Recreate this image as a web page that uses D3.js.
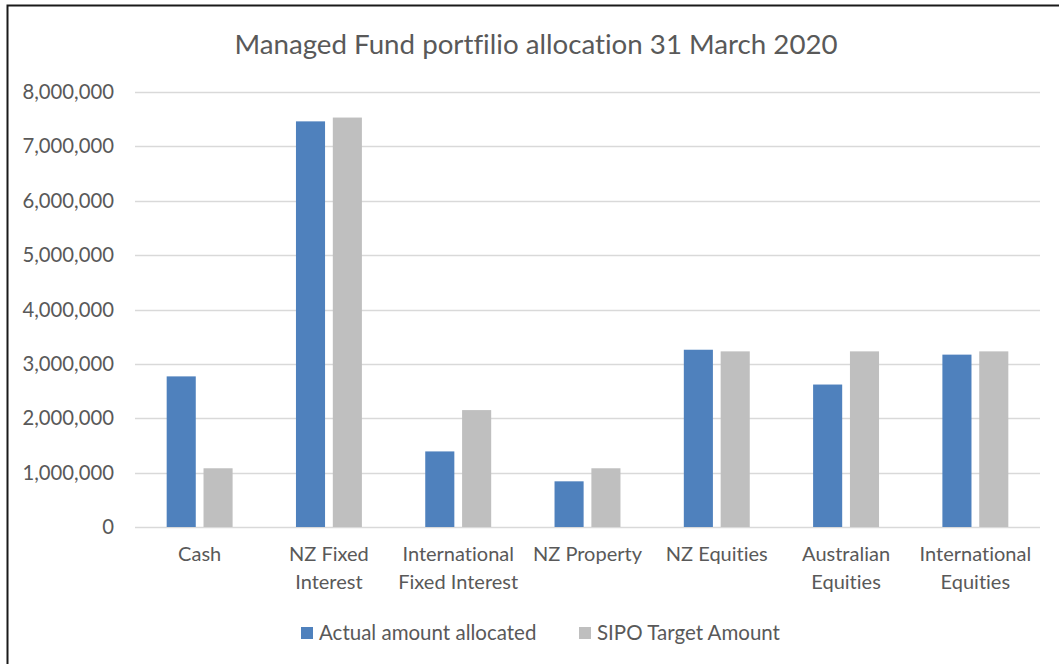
<!DOCTYPE html>
<html>
<head>
<meta charset="utf-8">
<script src="https://cdn.jsdelivr.net/npm/d3@7"></script>
<style>
  html, body { margin: 0; padding: 0; background: #fff; }
  svg { display: block; }
  text { font-family: Lato, "Open Sans", sans-serif; fill: #595959; font-variant-ligatures: none; }
</style>
</head>
<body>
<svg id="chart" width="1059" height="664"></svg>
<script>
// Asset classes and their wrapped axis labels
const categories = ["Cash", "NZ Fixed Interest", "International Fixed Interest", "NZ Property",
                    "NZ Equities", "Australian Equities", "International Equities"];
const categoryLines = [["Cash"], ["NZ Fixed", "Interest"], ["International", "Fixed Interest"],
                       ["NZ Property"], ["NZ Equities"], ["Australian", "Equities"], ["International", "Equities"]];

// Dollar amounts per asset class
const actualAllocated = [2770000, 7460000, 1390000, 840000, 3260000, 2620000, 3170000];
const sipoTarget      = [1080000, 7530000, 2150000, 1080000, 3230000, 3230000, 3230000];

const seriesNames = ["Actual amount allocated", "SIPO Target Amount"];
const seriesColors = ["#4F81BD", "#BFBFBF"];
const yTicks = [0, 1000000, 2000000, 3000000, 4000000, 5000000, 6000000, 7000000, 8000000];

const svg = d3.select("#chart");
const plot = { left: 135, right: 1040, top: 92, bottom: 527 };

// Outer chart frame
svg.append("rect")
  .attr("x", 7.5).attr("y", 5.5)
  .attr("width", 1070).attr("height", 680)
  .attr("fill", "#fff").attr("stroke", "#1a1a1a").attr("stroke-width", 2);

// Title
svg.append("text")
  .attr("x", 536).attr("y", 54)
  .attr("text-anchor", "middle")
  .style("font-size", "27.7px")
  .text("Managed Fund portfilio allocation 31 March 2020");

const x = d3.scaleBand().domain(categories).range([plot.left, plot.right]);
const y = d3.scaleLinear().domain([0, 8000000]).range([plot.bottom, plot.top]);

// Horizontal gridlines
svg.append("g").selectAll("line").data(yTicks).join("line")
  .attr("x1", plot.left).attr("x2", plot.right)
  .attr("y1", d => Math.round(y(d)) + 0.5).attr("y2", d => Math.round(y(d)) + 0.5)
  .attr("stroke", "#D9D9D9").attr("stroke-width", 1.3);

// Y axis labels
const fmt = d3.format(",");
const yAxis = d3.axisLeft(y).tickValues(yTicks).tickFormat(d => fmt(d)).tickSize(0).tickPadding(0);
const gy = svg.append("g").attr("transform", `translate(114,0)`).call(yAxis);
gy.select(".domain").remove();
gy.selectAll("text")
  .style("font-family", "Lato, 'Open Sans', sans-serif")
  .style("font-size", "20.3px").attr("fill", "#595959");

// Bars
const barW = x.bandwidth() * 0.225;
const gap = x.bandwidth() * 0.06;
const series = [actualAllocated, sipoTarget];
series.forEach((vals, si) => {
  svg.append("g").selectAll("rect").data(categories).join("rect")
    .attr("x", d => {
      const c = x(d) + x.bandwidth() / 2;
      return si === 0 ? c - gap / 2 - barW : c + gap / 2;
    })
    .attr("y", (d, i) => y(vals[i]))
    .attr("width", barW)
    .attr("height", (d, i) => y(0) - y(vals[i]))
    .attr("fill", seriesColors[si]);
});

// Category labels
const gx = svg.append("g");
categories.forEach((c, i) => {
  const t = gx.append("text")
    .attr("x", x(c) + x.bandwidth() / 2)
    .attr("y", 561)
    .attr("text-anchor", "middle")
    .style("font-size", "20px");
  categoryLines[i].forEach((line, li) => {
    t.append("tspan").attr("x", x(c) + x.bandwidth() / 2).attr("dy", li === 0 ? 0 : 28).text(line);
  });
});

// Legend
const legend = svg.append("g");
const legendItems = [{ x: 301, textX: 319 }, { x: 579, textX: 597 }];
seriesNames.forEach((name, i) => {
  legend.append("rect")
    .attr("x", legendItems[i].x).attr("y", 627)
    .attr("width", 12).attr("height", 12)
    .attr("fill", seriesColors[i]);
  legend.append("text")
    .attr("x", legendItems[i].textX).attr("y", 640)
    .style("font-size", "20.5px")
    .text(name);
});
</script>
</body>
</html>
